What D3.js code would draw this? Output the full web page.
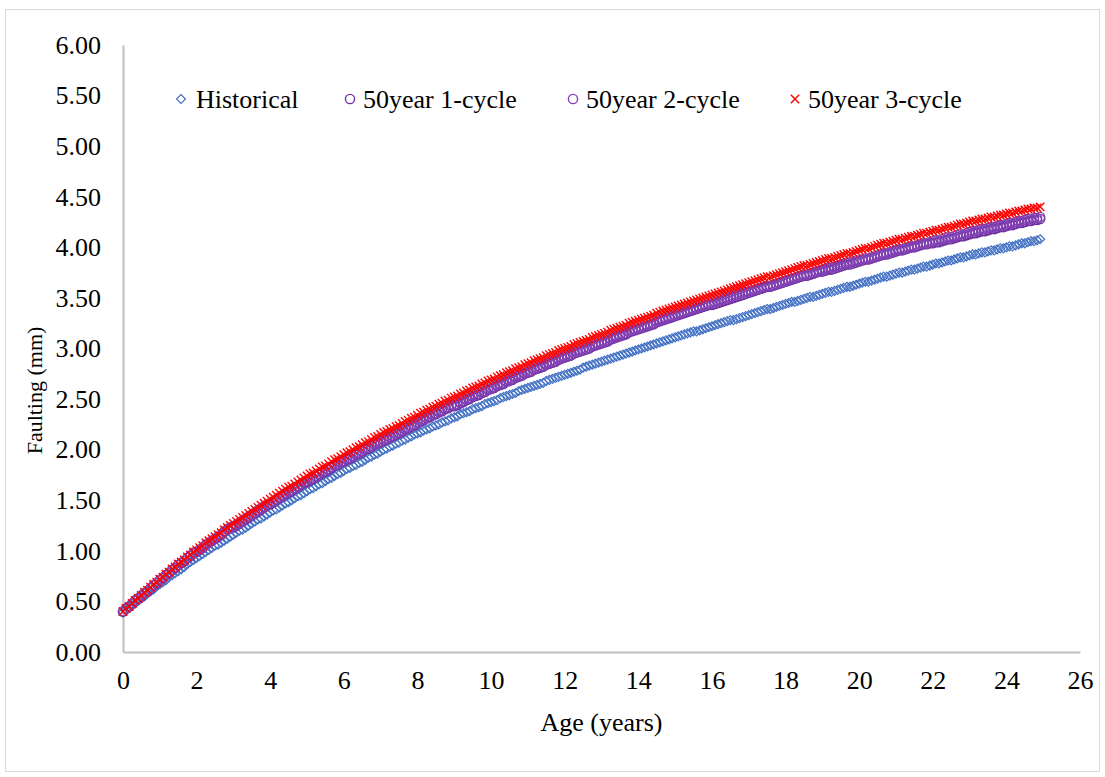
<!DOCTYPE html>
<html>
<head>
<meta charset="utf-8">
<script src="https://cdn.jsdelivr.net/npm/d3@7"></script>
<style>
  html, body { margin: 0; padding: 0; background: #fff; }
  svg { display: block; }
  svg text { font-family: "Liberation Serif", "Times New Roman", serif !important; fill: #000; }
</style>
</head>
<body>
<svg id="chart" width="1105" height="777"></svg>
<script>
// ---- data: monthly observations, age = month index / 12 ----
const monthsPerYear = 12;
const seriesNames = ["Historical", "50year 1-cycle", "50year 2-cycle", "50year 3-cycle"];
const xTicks = [0, 2, 4, 6, 8, 10, 12, 14, 16, 18, 20, 22, 24, 26];
const yTicks = [0, 0.5, 1, 1.5, 2, 2.5, 3, 3.5, 4, 4.5, 5, 5.5, 6];

const historical = [
0.39,0.41,0.44,0.46,0.48,0.51,0.53,0.55,0.58,0.60,0.62,0.65,
0.67,0.69,0.71,0.74,0.76,0.78,0.80,0.82,0.84,0.87,0.89,0.91,
0.93,0.95,0.97,0.99,1.01,1.03,1.05,1.06,1.08,1.10,1.12,1.14,
1.16,1.18,1.20,1.21,1.23,1.25,1.27,1.29,1.31,1.32,1.34,1.36,
1.38,1.40,1.41,1.43,1.45,1.47,1.48,1.50,1.52,1.54,1.55,1.57,
1.59,1.61,1.62,1.64,1.66,1.67,1.69,1.71,1.72,1.74,1.76,1.77,
1.79,1.81,1.82,1.84,1.85,1.87,1.88,1.90,1.92,1.93,1.95,1.96,
1.98,2.00,2.01,2.03,2.04,2.06,2.07,2.09,2.10,2.12,2.13,2.15,
2.16,2.17,2.19,2.20,2.21,2.23,2.24,2.25,2.27,2.28,2.29,2.31,
2.32,2.33,2.35,2.36,2.37,2.38,2.40,2.41,2.42,2.43,2.45,2.46,
2.47,2.48,2.49,2.51,2.52,2.53,2.54,2.55,2.56,2.58,2.59,2.60,
2.61,2.62,2.63,2.64,2.65,2.66,2.68,2.69,2.70,2.71,2.72,2.73,
2.74,2.75,2.76,2.77,2.78,2.79,2.81,2.82,2.83,2.84,2.85,2.86,
2.87,2.88,2.89,2.90,2.91,2.92,2.93,2.94,2.95,2.96,2.97,2.98,
2.99,3.00,3.01,3.02,3.03,3.04,3.05,3.06,3.07,3.08,3.09,3.10,
3.11,3.12,3.13,3.14,3.15,3.16,3.17,3.17,3.18,3.19,3.20,3.21,
3.22,3.23,3.24,3.25,3.26,3.27,3.28,3.28,3.29,3.30,3.31,3.32,
3.33,3.34,3.35,3.36,3.37,3.38,3.39,3.39,3.40,3.41,3.42,3.43,
3.44,3.45,3.46,3.46,3.47,3.48,3.49,3.50,3.51,3.51,3.52,3.53,
3.54,3.55,3.56,3.56,3.57,3.58,3.59,3.60,3.61,3.61,3.62,3.63,
3.64,3.65,3.66,3.66,3.67,3.68,3.69,3.70,3.71,3.71,3.72,3.73,
3.74,3.75,3.75,3.76,3.77,3.78,3.78,3.79,3.80,3.81,3.81,3.82,
3.83,3.84,3.84,3.85,3.86,3.87,3.87,3.88,3.89,3.90,3.90,3.91,
3.92,3.93,3.93,3.94,3.95,3.95,3.96,3.97,3.97,3.98,3.99,3.99,
4.00,4.01,4.01,4.02,4.03,4.04,4.04,4.05,4.06,4.06,4.07,4.08
];

const cycle1 = [
0.40,0.43,0.45,0.48,0.51,0.53,0.55,0.58,0.60,0.63,0.66,0.68,
0.71,0.73,0.76,0.78,0.81,0.83,0.86,0.88,0.90,0.93,0.95,0.98,
0.99,1.01,1.03,1.06,1.08,1.10,1.12,1.14,1.16,1.19,1.21,1.23,
1.23,1.25,1.27,1.29,1.31,1.33,1.35,1.37,1.39,1.41,1.43,1.45,
1.46,1.48,1.50,1.52,1.54,1.56,1.58,1.59,1.61,1.63,1.65,1.67,
1.68,1.70,1.71,1.73,1.75,1.77,1.78,1.80,1.82,1.84,1.85,1.87,
1.88,1.90,1.91,1.93,1.95,1.96,1.98,2.00,2.01,2.03,2.05,2.06,
2.07,2.09,2.10,2.12,2.13,2.15,2.16,2.18,2.20,2.21,2.23,2.24,
2.26,2.28,2.29,2.31,2.32,2.34,2.35,2.37,2.38,2.40,2.41,2.43,
2.43,2.44,2.46,2.47,2.49,2.50,2.52,2.53,2.54,2.56,2.57,2.59,
2.60,2.61,2.63,2.64,2.65,2.67,2.68,2.69,2.71,2.72,2.73,2.75,
2.76,2.77,2.79,2.80,2.81,2.82,2.84,2.85,2.86,2.87,2.89,2.90,
2.91,2.92,2.93,2.95,2.96,2.97,2.98,2.99,3.00,3.02,3.03,3.04,
3.05,3.06,3.07,3.09,3.10,3.11,3.12,3.13,3.14,3.16,3.17,3.18,
3.19,3.20,3.21,3.22,3.23,3.24,3.26,3.27,3.28,3.29,3.30,3.31,
3.32,3.33,3.34,3.35,3.36,3.37,3.38,3.39,3.40,3.41,3.42,3.43,
3.43,3.44,3.45,3.46,3.47,3.48,3.49,3.50,3.51,3.52,3.53,3.54,
3.55,3.56,3.57,3.58,3.59,3.60,3.61,3.61,3.62,3.63,3.64,3.65,
3.66,3.67,3.68,3.69,3.70,3.71,3.72,3.72,3.73,3.74,3.75,3.76,
3.76,3.77,3.78,3.78,3.79,3.80,3.81,3.82,3.83,3.83,3.84,3.85,
3.86,3.87,3.88,3.88,3.89,3.90,3.91,3.92,3.93,3.93,3.94,3.95,
3.96,3.97,3.97,3.98,3.99,4.00,4.00,4.01,4.02,4.03,4.03,4.04,
4.04,4.05,4.05,4.06,4.07,4.08,4.08,4.09,4.10,4.11,4.11,4.12,
4.13,4.14,4.14,4.15,4.16,4.16,4.17,4.18,4.18,4.19,4.20,4.20,
4.21,4.22,4.22,4.23,4.24,4.24,4.25,4.26,4.26,4.27,4.27,4.28
];

const cycle2 = [
0.40,0.43,0.45,0.48,0.51,0.53,0.56,0.58,0.60,0.63,0.66,0.68,
0.71,0.73,0.76,0.78,0.81,0.83,0.86,0.88,0.90,0.93,0.95,0.98,
0.99,1.01,1.03,1.06,1.08,1.10,1.12,1.14,1.16,1.19,1.21,1.23,
1.24,1.26,1.28,1.30,1.32,1.34,1.36,1.38,1.40,1.42,1.44,1.46,
1.47,1.49,1.51,1.53,1.55,1.57,1.59,1.60,1.62,1.64,1.66,1.68,
1.69,1.71,1.72,1.74,1.76,1.78,1.79,1.81,1.83,1.85,1.86,1.88,
1.89,1.91,1.92,1.94,1.96,1.97,1.99,2.01,2.02,2.04,2.06,2.07,
2.08,2.10,2.11,2.13,2.14,2.16,2.17,2.19,2.21,2.22,2.24,2.25,
2.27,2.29,2.30,2.32,2.33,2.35,2.36,2.38,2.39,2.41,2.42,2.44,
2.44,2.45,2.47,2.48,2.50,2.51,2.53,2.54,2.55,2.57,2.58,2.60,
2.61,2.62,2.64,2.65,2.66,2.68,2.69,2.70,2.72,2.73,2.74,2.76,
2.77,2.78,2.80,2.81,2.82,2.83,2.85,2.86,2.87,2.88,2.90,2.91,
2.92,2.93,2.94,2.96,2.97,2.98,2.99,3.00,3.01,3.03,3.04,3.05,
3.06,3.07,3.08,3.10,3.11,3.12,3.13,3.14,3.15,3.17,3.18,3.19,
3.20,3.21,3.22,3.23,3.24,3.25,3.27,3.28,3.29,3.30,3.31,3.32,
3.33,3.34,3.35,3.36,3.37,3.38,3.39,3.40,3.41,3.42,3.43,3.44,
3.45,3.46,3.47,3.48,3.49,3.50,3.51,3.52,3.53,3.54,3.55,3.56,
3.56,3.57,3.58,3.59,3.60,3.61,3.62,3.62,3.63,3.64,3.65,3.66,
3.67,3.68,3.69,3.70,3.71,3.72,3.73,3.73,3.74,3.75,3.76,3.77,
3.78,3.79,3.80,3.80,3.81,3.82,3.83,3.84,3.85,3.85,3.86,3.87,
3.87,3.88,3.89,3.89,3.90,3.91,3.92,3.93,3.94,3.94,3.95,3.96,
3.97,3.98,3.98,3.99,4.00,4.01,4.01,4.02,4.03,4.04,4.04,4.05,
4.06,4.07,4.07,4.08,4.09,4.10,4.10,4.11,4.12,4.13,4.13,4.14,
4.15,4.16,4.16,4.17,4.18,4.18,4.19,4.20,4.20,4.21,4.22,4.22,
4.23,4.24,4.24,4.25,4.26,4.26,4.27,4.28,4.28,4.29,4.29,4.30
];

const cycle3 = [
0.40,0.43,0.45,0.48,0.51,0.53,0.56,0.59,0.61,0.64,0.67,0.69,
0.72,0.74,0.77,0.79,0.82,0.84,0.87,0.89,0.91,0.94,0.96,0.99,
1.01,1.03,1.05,1.08,1.10,1.12,1.14,1.16,1.18,1.21,1.23,1.25,
1.27,1.29,1.31,1.33,1.35,1.37,1.39,1.41,1.43,1.45,1.47,1.49,
1.51,1.53,1.55,1.57,1.59,1.61,1.63,1.64,1.66,1.68,1.70,1.72,
1.74,1.76,1.77,1.79,1.81,1.83,1.84,1.86,1.88,1.90,1.91,1.93,
1.95,1.97,1.98,2.00,2.02,2.03,2.05,2.07,2.08,2.10,2.12,2.13,
2.15,2.17,2.18,2.20,2.21,2.23,2.24,2.26,2.28,2.29,2.31,2.32,
2.34,2.36,2.37,2.39,2.40,2.42,2.43,2.45,2.46,2.48,2.49,2.51,
2.52,2.53,2.55,2.56,2.58,2.59,2.61,2.62,2.63,2.65,2.66,2.68,
2.69,2.70,2.72,2.73,2.74,2.76,2.77,2.78,2.80,2.81,2.82,2.84,
2.85,2.86,2.88,2.89,2.90,2.91,2.93,2.94,2.95,2.96,2.98,2.99,
3.00,3.01,3.02,3.04,3.05,3.06,3.07,3.08,3.09,3.11,3.12,3.13,
3.14,3.15,3.16,3.18,3.19,3.20,3.21,3.22,3.23,3.25,3.26,3.27,
3.28,3.29,3.30,3.31,3.32,3.33,3.35,3.36,3.37,3.38,3.39,3.40,
3.41,3.42,3.43,3.44,3.45,3.46,3.47,3.48,3.49,3.50,3.51,3.52,
3.53,3.54,3.55,3.56,3.57,3.58,3.59,3.60,3.61,3.62,3.63,3.64,
3.65,3.66,3.67,3.68,3.69,3.70,3.71,3.71,3.72,3.73,3.74,3.75,
3.76,3.77,3.78,3.79,3.80,3.81,3.82,3.82,3.83,3.84,3.85,3.86,
3.87,3.88,3.89,3.89,3.90,3.91,3.92,3.93,3.94,3.94,3.95,3.96,
3.97,3.98,3.99,3.99,4.00,4.01,4.02,4.03,4.04,4.04,4.05,4.06,
4.07,4.08,4.08,4.09,4.10,4.11,4.11,4.12,4.13,4.14,4.14,4.15,
4.16,4.17,4.17,4.18,4.19,4.20,4.20,4.21,4.22,4.23,4.23,4.24,
4.25,4.26,4.26,4.27,4.28,4.28,4.29,4.30,4.30,4.31,4.32,4.32,
4.33,4.34,4.34,4.35,4.36,4.36,4.37,4.38,4.38,4.39,4.39,4.40
];

// ---- styles ----
const seriesStyle = [
  { values: historical, shape: "diamond", color: "#4472C4" },
  { values: cycle1,     shape: "circle",  color: "#7030A0" },
  { values: cycle2,     shape: "circle",  color: "#8040B4" },
  { values: cycle3,     shape: "cross",   color: "#FF0000" }
];

const svg = d3.select("#chart");
const plot = { left: 123, right: 1080, top: 45, bottom: 652 };
const tickFont = 26;

// outer chart border
svg.append("rect")
  .attr("x", 5.5).attr("y", 9.5).attr("width", 1094).attr("height", 762)
  .attr("fill", "#fff").attr("stroke", "#d9d9d9").attr("stroke-width", 1);

const x = d3.scaleLinear().domain([0, 26]).range([plot.left, plot.right]);
const y = d3.scaleLinear().domain([0, 6]).range([plot.bottom, plot.top]);

// axes
const xAxis = svg.append("g")
  .attr("transform", `translate(0,${plot.bottom})`)
  .call(d3.axisBottom(x).tickValues(xTicks).tickSize(0).tickPadding(19).tickFormat(d3.format("d")));
const yAxis = svg.append("g")
  .attr("transform", `translate(${plot.left},0)`)
  .call(d3.axisLeft(y).tickValues(yTicks).tickSize(0).tickPadding(22).tickFormat(d3.format(".2f")));

[xAxis, yAxis].forEach(g => {
  g.attr("font-family", null).attr("font-size", null);
  g.select(".domain").attr("stroke", "#bfbfbf").attr("stroke-width", 2);
  g.selectAll("text").style("font-size", tickFont + "px");
});
xAxis.selectAll("text").attr("dy", "0.71em");

// axis titles
svg.append("text")
  .attr("x", (plot.left + plot.right) / 2).attr("y", 722)
  .attr("text-anchor", "middle").attr("dominant-baseline", "central")
  .style("font-size", "26px").text("Age (years)");
svg.append("text")
  .attr("transform", `translate(34,${(plot.top + plot.bottom) / 2 + 42}) rotate(-90)`)
  .attr("text-anchor", "middle").attr("dominant-baseline", "central")
  .style("font-size", "22px").text("Faulting (mm)");

// marker drawing
function drawMarker(g, shape, color, cx, cy) {
  if (shape === "diamond") {
    const s = 4.5;
    g.append("path")
      .attr("d", `M${cx},${cy - s}L${cx + s},${cy}L${cx},${cy + s}L${cx - s},${cy}Z`)
      .attr("fill", "none").attr("stroke", color).attr("stroke-width", 1.2);
  } else if (shape === "circle") {
    g.append("circle").attr("cx", cx).attr("cy", cy).attr("r", 4.6)
      .attr("fill", "none").attr("stroke", color).attr("stroke-width", 1.4);
  } else {
    const s = 4.2;
    g.append("path")
      .attr("d", `M${cx - s},${cy - s}L${cx + s},${cy + s}M${cx - s},${cy + s}L${cx + s},${cy - s}`)
      .attr("fill", "none").attr("stroke", color).attr("stroke-width", 1.4);
  }
}

// series
seriesStyle.forEach(s => {
  const g = svg.append("g");
  s.values.forEach((v, i) => {
    drawMarker(g, s.shape, s.color, x(i / monthsPerYear), y(v));
  });
});

// legend
const legendItems = [
  { markerX: 181, textX: 196 },
  { markerX: 350, textX: 363 },
  { markerX: 573, textX: 586 },
  { markerX: 795, textX: 808 }
];
const legendY = 99;
const lg = svg.append("g");
seriesStyle.forEach((s, i) => {
  drawMarker(lg, s.shape, s.color, legendItems[i].markerX, legendY);
  lg.append("text")
    .attr("x", legendItems[i].textX).attr("y", legendY)
    .attr("dominant-baseline", "central")
    .style("font-size", "26px")
    .text(seriesNames[i]);
});
</script>
</body>
</html>
